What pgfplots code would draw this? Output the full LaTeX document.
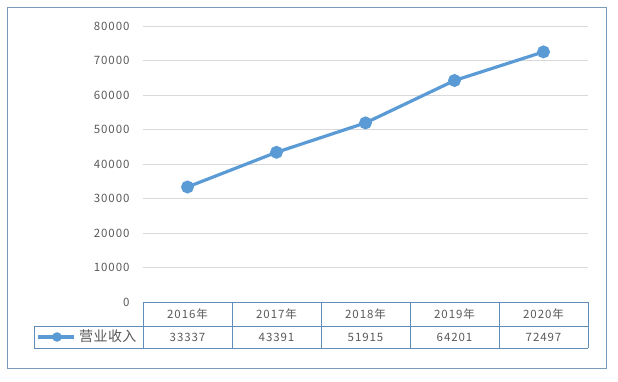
\documentclass[border=0pt]{standalone}
\usepackage{pgfplots}
\pgfplotsset{compat=1.18}
\usepackage{fontspec}
\setmainfont{Noto Sans CJK SC}[LetterSpace=8]
\newfontfamily\legfont{Noto Sans CJK SC}[LetterSpace=3]
\definecolor{linec}{HTML}{5B9BD5}
\definecolor{gridc}{HTML}{D9D9D9}
\definecolor{txtc}{HTML}{595959}
\definecolor{framec}{RGB}{120,155,185}
\definecolor{tabc}{RGB}{95,140,185}
\begin{document}
\begin{tikzpicture}[x=1pt,y=1pt]
\path (0,0) rectangle (618,382);
\draw[framec, line width=0.9pt] (7,14) rectangle (606,375);
\begin{axis}[
  at={(143pt,80pt)}, anchor=south west,
  scale only axis, width=445pt, height=276pt,
  xmin=-0.5, xmax=4.5, ymin=0, ymax=80000,
  ytick={0,10000,...,80000},
  xtick=\empty,
  axis line style={draw=none},
  major tick length=0pt,
  ymajorgrids, grid style={gridc, line width=0.8pt},
  scaled y ticks=false,
  yticklabel style={/pgf/number format/fixed, /pgf/number format/1000 sep={}, text=txtc, font=\fontsize{11.5}{12}\selectfont, xshift=-10pt},
  /pgf/number format/assume math mode=true,
  clip=false,
]
\addplot[linec, line width=3.2pt, mark=*, mark size=4.8pt, mark options={solid, fill=linec, draw=none}]
 coordinates {(0,33337) (1,43391) (2,51915) (3,64201) (4,72497)};
\end{axis}
% data table
\begin{scope}[tabc, line width=0.8pt]
\draw (143,80) -- (588,80);
\draw (34,56) -- (588,56);
\draw (34,34) -- (588,34);
\draw (34,56) -- (34,34);
\foreach \i in {0,...,5} { \draw (143+89*\i,80) -- (143+89*\i,34); }
\end{scope}
\begin{scope}[every node/.style={text=txtc, font=\fontsize{11.5}{12}\selectfont, inner sep=0pt}]
\node at (187.5,68) {2016年};
\node at (276.5,68) {2017年};
\node at (365.5,68) {2018年};
\node at (454.5,68) {2019年};
\node at (543.5,68) {2020年};
\node at (187.5,45) {33337};
\node at (276.5,45) {43391};
\node at (365.5,45) {51915};
\node at (454.5,45) {64201};
\node at (543.5,45) {72497};
\node[anchor=west, font=\legfont\fontsize{14}{15}\selectfont] at (79,45.5) {营业收入};
\end{scope}
\draw[linec, line width=3.2pt] (38,45) -- (74,45);
\fill[linec] (57,45) circle (4.8);
\end{tikzpicture}
\end{document}
